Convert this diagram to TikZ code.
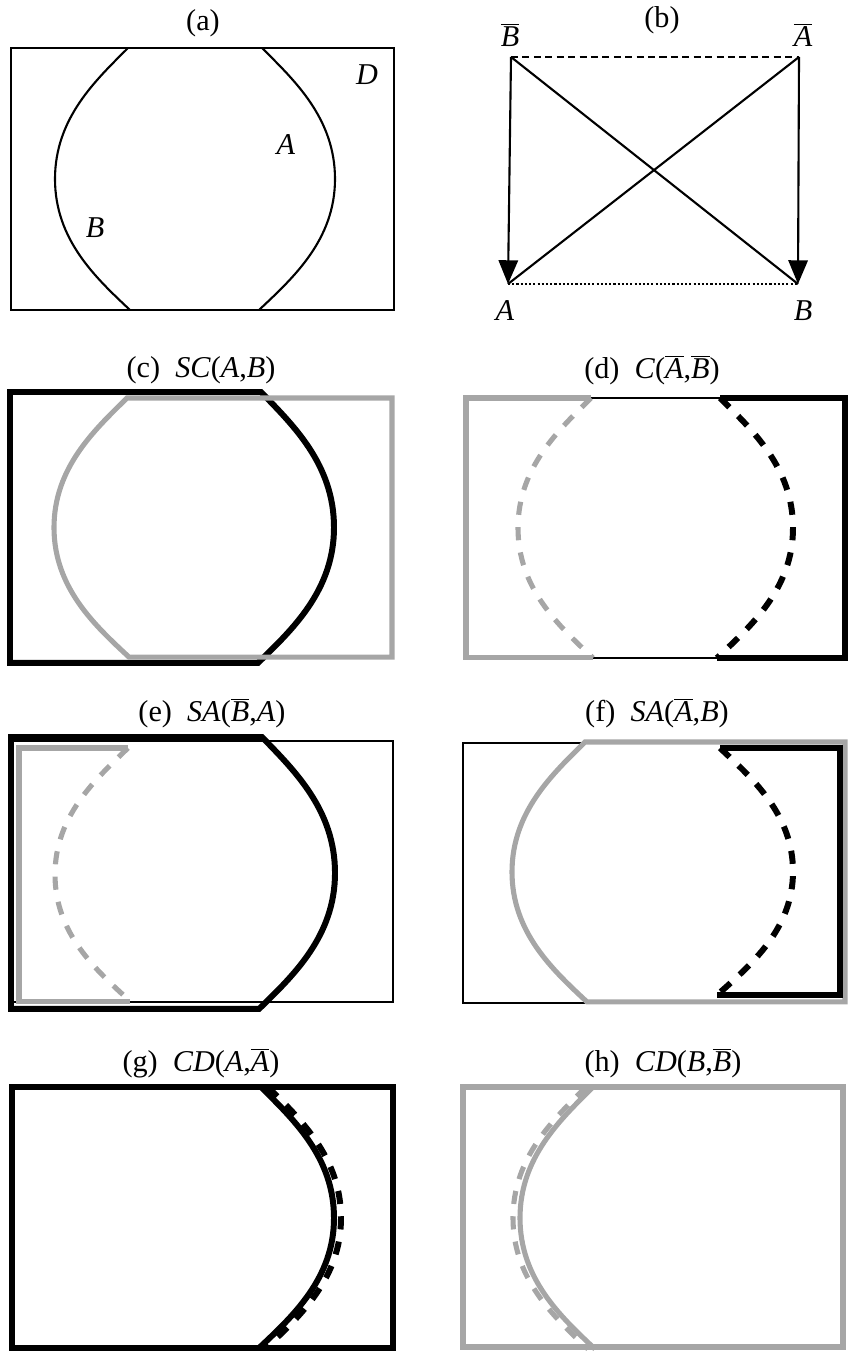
\documentclass[tikz,border=0pt]{standalone}
\usepackage{fontspec}
\setmainfont{Liberation Serif}
\usepackage{tikz}
\usetikzlibrary{arrows.meta}

\definecolor{shade}{HTML}{A6A6A6}
\newcommand{\nbar}[1]{$\overline{\mbox{\itshape #1}}$}
\newcommand{\Barc}{.. controls (85,32) and (44,70) .. (44,131) .. controls (44,192) and (85,230) .. (119,262)}
\newcommand{\Aarc}{.. controls (283,32) and (324,70) .. (324,131) .. controls (324,192) and (282,230) .. (248,262)}

\begin{document}
\begin{tikzpicture}[x=0.02cm, y=-0.02cm,
  fine/.style={line width=1.2pt},
  heavy/.style={line width=3.4pt},
  greyline/.style={line width=2.9pt, draw=shade},
  broken/.style={dash pattern=on 7.5pt off 7pt},
  lbl/.style={font=\fontsize{17.2}{20}\selectfont, inner sep=0pt},
  tip/.style={-{Triangle[length=13.5pt, width=11pt]}},
]
\useasboundingbox (0,0) rectangle (849,1351);

% (a)
\node[lbl] (ta) at (203,23) {(a)};
\begin{scope}[shift={(11,48)}]
  \draw[fine] (0,0) rectangle (383,262);
  \draw[fine] (117,0) \Barc;
  \draw[fine] (251,0) \Aarc;
\end{scope}
\node[lbl] (lD) at (367,75) {\textit{D}};
\node[lbl] (lA) at (286,145) {\textit{A}};
\node[lbl] (lB) at (95,228) {\textit{B}};

% (b)
\node[lbl] (tb) at (662,20) {(b)};
\coordinate (Bb) at (511,57);
\coordinate (Ab) at (799,57);
\coordinate (Ap) at (508,284);
\coordinate (Bp) at (798,284);
\node[lbl] (lBb) at (510,35) {\nbar{B}};
\node[lbl] (lAb) at (803,35) {\nbar{A}};
\node[lbl] (lAp) at (505,311) {\textit{A}};
\node[lbl] (lBp) at (803,311) {\textit{B}};
\draw[fine, dash pattern=on 4pt off 2.5pt] (Bb) -- (Ab);
\draw[fine, dash pattern=on 1.2pt off 1.2pt] (Ap) -- (Bp);
\draw[fine] (Bb) -- (Bp);
\draw[fine] (Ab) -- (Ap);
\draw[fine, tip] (Bb) -- (Ap);
\draw[fine, tip] (Ab) -- (Bp);

% (c)
\node[lbl] (tc) at (201,370) {(c)\hspace{0.5em}\textit{SC}(\textit{A},\textit{B})};
\begin{scope}[shift={(10,392)}, yscale=1.034]
  \draw[heavy] (0,262) -- (0,0) -- (251,0) \Aarc -- cycle;
\end{scope}
\begin{scope}[shift={(10,398)}, yscale=0.989]
  \draw[greyline] (382,0) -- (117,0) \Barc -- (382,262) -- cycle;
\end{scope}

% (d)
\node[lbl] (td) at (652,370) {(d)\hspace{0.5em}\textit{C}(\nbar{A},\nbar{B})};
\begin{scope}[shift={(466,398)}, yscale=0.992]
  \draw[fine] (125,0) -- (254,0) (127,262) -- (251,262);
  \draw[greyline] (125,0) -- (0,0) -- (0,262) -- (127,262);
  \draw[greyline, broken, shift={(8,0)}] (117,0) \Barc;
  \draw[heavy] (254,0) -- (379,0) -- (379,262) -- (251,262);
  \draw[heavy, broken, shift={(3,0)}] (251,0) \Aarc;
\end{scope}

% (e)
\node[lbl] (te) at (212,713) {(e)\hspace{0.5em}\textit{SA}(\nbar{B},\textit{A})};
\draw[fine] (11,741) rectangle (393,1002);
\begin{scope}[shift={(11,737)}, yscale=1.038]
  \draw[heavy] (0,262) -- (0,0) -- (251,0) \Aarc -- cycle;
\end{scope}
\begin{scope}[shift={(11,748)}, yscale=0.966]
  \draw[greyline] (117,0) -- (8,0) -- (8,262) -- (119,262);
  \draw[greyline, broken] (117,0) \Barc;
\end{scope}

% (f)
\node[lbl] (tf) at (657,713) {(f)\hspace{0.5em}\textit{SA}(\nbar{A},\textit{B})};
\draw[fine] (463,743) rectangle (845,1003);
\begin{scope}[shift={(468,742)}, yscale=0.992]
  \draw[greyline] (377,0) -- (117,0) \Barc -- (377,262) -- cycle;
\end{scope}
\begin{scope}[shift={(469,748)}, yscale=0.943]
  \draw[heavy] (251,0) -- (371,0) -- (371,262) -- (248,262);
  \draw[heavy, broken] (251,0) \Aarc;
\end{scope}

% (g)
\node[lbl] (tg) at (201,1063) {(g)\hspace{0.5em}\textit{CD}(\textit{A},\nbar{A})};
\begin{scope}[shift={(12,1087)}]
  \draw[heavy, broken, shift={(5,0)}] (251,0) \Aarc;
  \draw[heavy] (0,0) rectangle (381,261);
  \draw[heavy, shift={(-2,0)}] (251,0) \Aarc;
\end{scope}

% (h)
\node[lbl] (th) at (663,1063) {(h)\hspace{0.5em}\textit{CD}(\textit{B},\nbar{B})};
\begin{scope}[shift={(463,1087)}]
  \draw[greyline, broken, shift={(6,0)}] (117,0) \Barc;
  \draw[greyline] (0,0) rectangle (380,260);
  \draw[greyline, shift={(13,0)}] (117,0) \Barc;
\end{scope}
\end{tikzpicture}
\end{document}
